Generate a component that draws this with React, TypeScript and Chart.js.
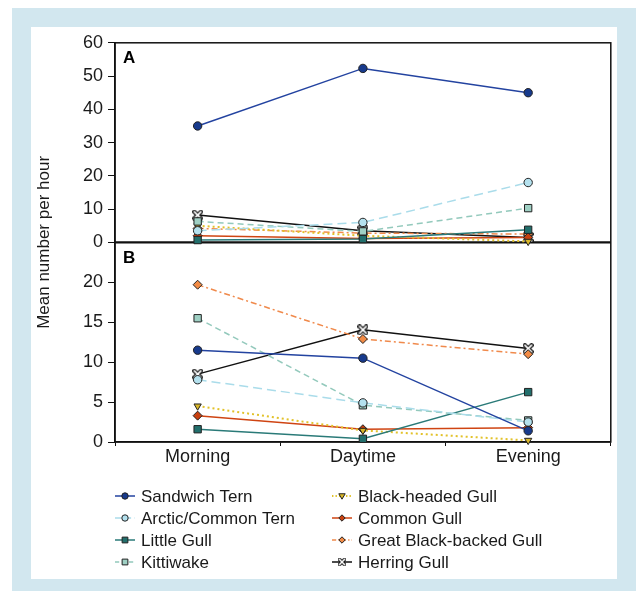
import { useEffect, useRef } from 'react';
import { Chart, registerables } from 'chart.js';

Chart.register(...registerables);

// ---------- data ----------
const categories = ['Morning', 'Daytime', 'Evening'];
const speciesNames = [
  'Sandwich Tern',
  'Arctic/Common Tern',
  'Little Gull',
  'Kittiwake',
  'Black-headed Gull',
  'Common Gull',
  'Great Black-backed Gull',
  'Herring Gull',
];
const panelLabels = ['A', 'B'];
const yTitle = 'Mean number per hour';
const yRangeA = [0, 60];
const yStepA = 10;
const yRangeB = [0, 25];
const yStepB = 5;
const yMaxTickB = 20;

// Panel A
const sandwichTernA = [35, 52.3, 45];
const arcticCommonTernA = [3.5, 6.0, 18.0];
const littleGullA = [0.7, 1.0, 3.8];
const kittiwakeA = [6.3, 3.3, 10.3];
const blackHeadedGullA = [5.0, 2.0, 0.3];
const commonGullA = [2.0, 1.2, 1.5];
const greatBlackBackedGullA = [4.2, 2.8, 2.5];
const herringGullA = [8.2, 3.5, 1.5];

// Panel B
const sandwichTernB = [11.5, 10.5, 1.4];
const arcticCommonTernB = [7.8, 4.9, 2.5];
const littleGullB = [1.6, 0.4, 6.25];
const kittiwakeB = [15.5, 4.6, 2.7];
const blackHeadedGullB = [4.5, 1.45, 0.2];
const commonGullB = [3.3, 1.6, 1.8];
const greatBlackBackedGullB = [19.7, 12.9, 11.0];
const herringGullB = [8.5, 14.05, 11.7];

const seriesA = [sandwichTernA, arcticCommonTernA, littleGullA, kittiwakeA, blackHeadedGullA, commonGullA, greatBlackBackedGullA, herringGullA];
const seriesB = [sandwichTernB, arcticCommonTernB, littleGullB, kittiwakeB, blackHeadedGullB, commonGullB, greatBlackBackedGullB, herringGullB];

// ---------- styles ----------
const FONT = '"Liberation Sans", Arial, Helvetica, sans-serif';
const TEXT = '#1a1a1a';

type Sty = { line: string; fill: string; dash: number[]; width: number; marker: string };
const styles: Sty[] = [
  { line: '#2343a0', fill: '#173a8c', dash: [], width: 1.5, marker: 'circle' },
  { line: '#aadcea', fill: '#b4e1ee', dash: [9, 5], width: 1.5, marker: 'circle' },
  { line: '#2a7a78', fill: '#226f6c', dash: [], width: 1.5, marker: 'rect' },
  { line: '#93c9bc', fill: '#9fd0c4', dash: [6, 4], width: 1.5, marker: 'rect' },
  { line: '#e2c22a', fill: '#d8b628', dash: [2, 3], width: 2, marker: 'triangleDown' },
  { line: '#cf4412', fill: '#c8400f', dash: [], width: 1.5, marker: 'diamond' },
  { line: '#f08a4c', fill: '#f28b45', dash: [6, 3, 2, 3], width: 1.5, marker: 'diamond' },
  { line: '#111111', fill: '#ffffff', dash: [], width: 1.5, marker: 'cross' },
];

function makeCrossMarker(size: number) {
  const c = document.createElement('canvas');
  c.width = size;
  c.height = size;
  const ctx = c.getContext('2d')!;
  const m = size / 2;
  const d = size / 2 - 2.2;
  const draw = (w: number, col: string) => {
    ctx.strokeStyle = col;
    ctx.lineWidth = w;
    ctx.lineCap = 'round';
    ctx.beginPath();
    ctx.moveTo(m - d, m - d);
    ctx.lineTo(m + d, m + d);
    ctx.moveTo(m + d, m - d);
    ctx.lineTo(m - d, m + d);
    ctx.stroke();
  };
  draw(4.2, '#111');
  draw(1.8, '#fff');
  return c;
}

function drawMarker(ctx: CanvasRenderingContext2D, kind: string, x: number, y: number, r: number, fill: string, img: HTMLCanvasElement) {
  ctx.save();
  ctx.setLineDash([]);
  ctx.fillStyle = fill;
  ctx.strokeStyle = '#222';
  ctx.lineWidth = 1;
  ctx.beginPath();
  if (kind === 'circle') {
    ctx.arc(x, y, r, 0, Math.PI * 2);
  } else if (kind === 'rect') {
    ctx.rect(x - r * 0.9, y - r * 0.9, r * 1.8, r * 1.8);
  } else if (kind === 'triangleDown') {
    ctx.moveTo(x - r, y - r * 0.7);
    ctx.lineTo(x + r, y - r * 0.7);
    ctx.lineTo(x, y + r);
    ctx.closePath();
  } else if (kind === 'diamond') {
    ctx.moveTo(x, y - r);
    ctx.lineTo(x + r, y);
    ctx.lineTo(x, y + r);
    ctx.lineTo(x - r, y);
    ctx.closePath();
  } else {
    const s = img.width * (r / 4);
    ctx.drawImage(img, x - s / 2, y - s / 2, s, s);
    ctx.restore();
    return;
  }
  ctx.fill();
  ctx.stroke();
  ctx.restore();
}

export default function App() {
  const ref = useRef<HTMLCanvasElement>(null);

  useEffect(() => {
    const canvas = ref.current;
    if (!canvas) return;
    const crossImg = makeCrossMarker(11);

    const pointStyleFor = (s: Sty): any =>
      s.marker === 'circle' ? 'circle'
        : s.marker === 'rect' ? 'rect'
        : s.marker === 'triangleDown' ? 'triangle'
        : s.marker === 'diamond' ? 'rectRot'
        : crossImg;

    const makeSet = (data: number[], i: number, axis: string) => {
      const s = styles[i];
      return {
        label: speciesNames[i],
        data,
        yAxisID: axis,
        borderColor: s.line,
        borderWidth: s.width,
        borderDash: s.dash,
        backgroundColor: s.fill,
        pointStyle: pointStyleFor(s),
        pointRotation: s.marker === 'triangleDown' ? 180 : 0,
        pointRadius: s.marker === 'rect' ? 5.2 : s.marker === 'diamond' ? 4.5 : 4.2,
        pointBorderColor: '#222',
        pointBorderWidth: 1,
        pointBackgroundColor: s.fill,
        tension: 0,
        fill: false,
        clip: false as any,
      };
    };

    const datasets = [
      ...seriesA.map((d, i) => makeSet(d, i, 'yA')),
      ...seriesB.map((d, i) => makeSet(d, i, 'yB')),
    ];

    const framePlugin = {
      id: 'frame',
      beforeDatasetsDraw(chart: any) {
        const { ctx, chartArea } = chart;
        const yA = chart.scales.yA;
        const yB = chart.scales.yB;
        ctx.save();
        ctx.strokeStyle = '#111';
        ctx.lineWidth = 1.5;
        ctx.strokeRect(chartArea.left, chartArea.top, chartArea.right - chartArea.left, chartArea.bottom - chartArea.top);
        const z = yA.getPixelForValue(0);
        ctx.lineWidth = 2.4;
        ctx.beginPath();
        ctx.moveTo(chartArea.left, z);
        ctx.lineTo(chartArea.right, z);
        ctx.stroke();
        // panel letters
        ctx.fillStyle = '#000';
        ctx.font = `bold 17px ${FONT}`;
        ctx.textAlign = 'left';
        ctx.textBaseline = 'top';
        ctx.fillText(panelLabels[0], chartArea.left + 8, yA.top + 7);
        ctx.fillText(panelLabels[1], chartArea.left + 8, yB.top + 7);
        // y title
        ctx.fillStyle = TEXT;
        ctx.font = `17px ${FONT}`;
        ctx.textAlign = 'center';
        ctx.textBaseline = 'middle';
        ctx.translate(13, (chartArea.top + chartArea.bottom) / 2);
        ctx.rotate(-Math.PI / 2);
        ctx.fillText(yTitle, 0, 0);
        ctx.restore();
      },
      afterDraw(chart: any) {
        const { ctx } = chart;
        const colX = [84, 301];
        const rowY0 = 469;
        const rowGap = 22;
        ctx.save();
        speciesNames.forEach((name, i) => {
          const s = styles[i];
          const col = i < 4 ? 0 : 1;
          const row = i % 4;
          const x = colX[col];
          const y = rowY0 + row * rowGap;
          ctx.strokeStyle = s.line;
          ctx.lineWidth = s.width;
          ctx.setLineDash(s.dash.map((v) => v * 0.7));
          ctx.beginPath();
          ctx.moveTo(x, y);
          ctx.lineTo(x + 20, y);
          ctx.stroke();
          drawMarker(ctx, s.marker, x + 10, y, 3.2, s.fill, crossImg);
          ctx.setLineDash([]);
          ctx.fillStyle = TEXT;
          ctx.font = `17px ${FONT}`;
          ctx.textAlign = 'left';
          ctx.textBaseline = 'middle';
          ctx.fillText(name, x + 26, y + 1);
        });
        ctx.restore();
      },
    };

    const tickFont = { family: FONT, size: 18 };

    const chart = new Chart(canvas, {
      type: 'line',
      data: { labels: categories, datasets: datasets as any },
      options: {
        animation: false,
        responsive: false,
        maintainAspectRatio: false,
        layout: { padding: { top: 15, right: 4, left: 0, bottom: 107 } },
        plugins: { legend: { display: false }, tooltip: { enabled: false } },
        scales: {
          x: {
            type: 'category',
            offset: true,
            grid: { offset: true, drawOnChartArea: false, drawTicks: true, tickLength: 4, color: '#111', lineWidth: 1 },
            border: { display: true, color: '#111', width: 1.5 },
            ticks: { font: tickFont, color: TEXT, padding: 0, maxRotation: 0, autoSkip: false },
            afterFit: (s: any) => { s.height = 30; },
          },
          yB: {
            type: 'linear',
            position: 'left',
            stack: 'panels',
            stackWeight: 1,
            min: yRangeB[0],
            max: yRangeB[1],
            ticks: { stepSize: yStepB, font: tickFont, color: TEXT, padding: 5, autoSkip: false },
            grid: { drawOnChartArea: false, drawTicks: true, tickLength: 7, color: '#111' },
            border: { display: true, color: '#111', width: 1.5 },
            afterBuildTicks: (s: any) => { s.ticks = s.ticks.filter((t: any) => t.value <= yMaxTickB); },
            afterFit: (s: any) => { s.width = 84; },
          },
          yA: {
            type: 'linear',
            position: 'left',
            stack: 'panels',
            stackWeight: 1,
            min: yRangeA[0],
            max: yRangeA[1],
            ticks: { stepSize: yStepA, font: tickFont, color: TEXT, padding: 5, autoSkip: false },
            grid: { drawOnChartArea: false, drawTicks: true, tickLength: 7, color: '#111' },
            border: { display: true, color: '#111', width: 1.5 },
            afterFit: (s: any) => { s.width = 84; },
          },
        } as any,
      },
      plugins: [framePlugin],
    });

    return () => chart.destroy();
  }, []);

  return (
    <div>
      <div style={{ position: 'absolute', left: 12, top: 8, width: 624, height: 583, background: '#d2e7ef' }} />
      <div style={{ position: 'absolute', left: 31, top: 27, width: 586, height: 552, background: '#ffffff' }}>
        <canvas ref={ref} width={586} height={552} style={{ width: 586, height: 552, display: 'block' }} />
      </div>
    </div>
  );
}
